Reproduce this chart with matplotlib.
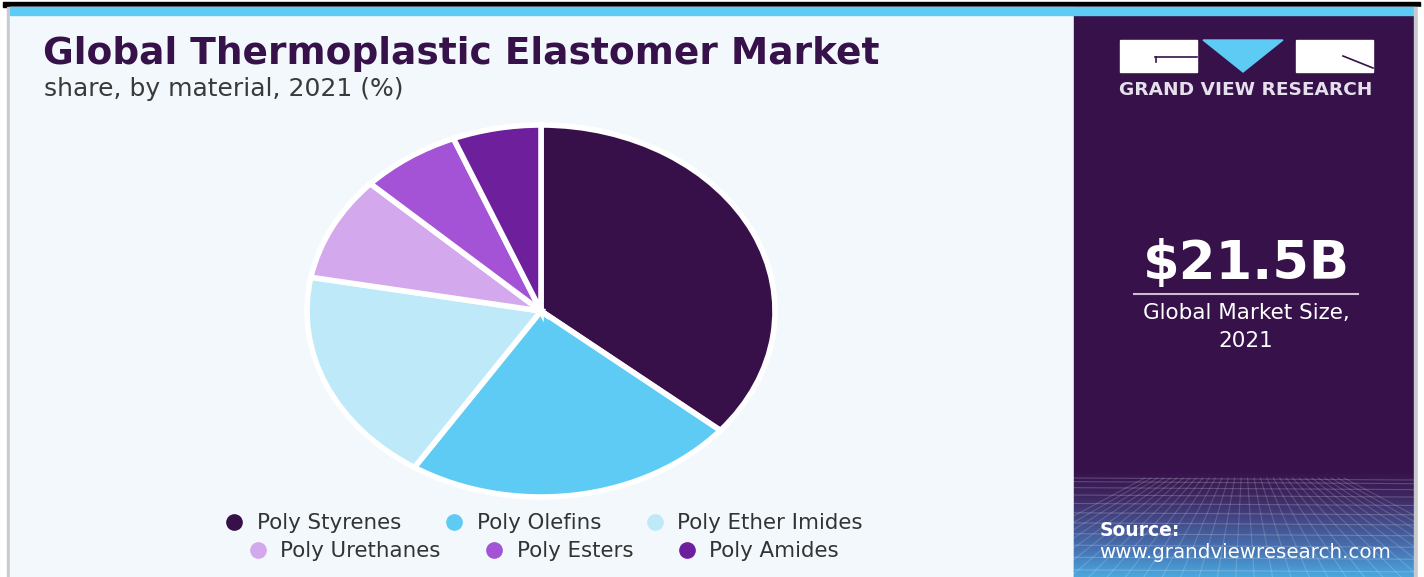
import numpy as np
import matplotlib
matplotlib.use("Agg")
import matplotlib.pyplot as plt
from matplotlib.patches import Rectangle, Polygon
from matplotlib.lines import Line2D
from matplotlib.colors import LinearSegmentedColormap

# Market share by material, 2021 (%)
materials = ["Poly Styrenes", "Poly Olefins", "Poly Ether Imides",
             "Poly Urethanes", "Poly Esters", "Poly Amides"]
shares = [36.1, 23.0, 18.8, 9.1, 6.9, 6.1]
colors = ["#371049", "#5ecbf5", "#bde9f9", "#d4a8ec", "#a452d6", "#6e1f9b"]

title = "Global Thermoplastic Elastomer Market"
subtitle = "share, by material, 2021 (%)"
market_size = "$21.5B"
market_label = "Global Market Size,\n2021"

W, H = 1424, 577
DPI = 100
fig = plt.figure(figsize=(W / DPI, H / DPI), dpi=DPI)
fig.patch.set_facecolor("white")

# Full-figure canvas in pixel coordinates for the frame, panels and text
bg = fig.add_axes([0, 0, 1, 1])
bg.set_xlim(0, W)
bg.set_ylim(H, 0)
bg.axis("off")

DARK = "#36114a"
LIGHT_BG = "#f3f8fc"
FONT = "DejaVu Sans"

# Outer frame: black rule, cyan strip, grey side borders
bg.add_patch(Rectangle((3, 2), 1417, 5, color="black", zorder=1))
bg.add_patch(Rectangle((7, 7), 1411, H, color="#c8cacd", zorder=1))
bg.add_patch(Rectangle((10, 7), 1404, H, color=LIGHT_BG, zorder=2))
bg.add_patch(Rectangle((1074, 7), 340, H, color=DARK, zorder=2))
bg.add_patch(Rectangle((10, 7), 1404, 8, color="#5ecbf5", zorder=5))

# Lower part of the side panel: purple-to-blue gradient with a perspective grid
grad = LinearSegmentedColormap.from_list(
    "panel", ["#36114a", "#3e2862", "#444e8c", "#4774b4", "#4aa8de"])
g = np.linspace(0, 1, 200)[:, None]
bg.imshow(g, cmap=grad, extent=(1074, 1414, 577, 470), aspect="auto",
          zorder=3, interpolation="bilinear")
ys = 478 + 105 * (np.linspace(0, 1, 12) ** 1.4)
for y in ys:
    bg.add_line(Line2D([1074, 1414], [y, y + 2], color="white", alpha=0.2,
                       lw=0.8, zorder=4))
for xb in np.linspace(960, 1530, 32):
    xt = 1244 + (xb - 1244) * 0.35
    bg.add_line(Line2D([xt, xb], [478, 577], color="white", alpha=0.17,
                       lw=0.8, zorder=4))
bg.add_patch(Rectangle((1414, 7), 4, H, color="#c8cacd", zorder=5))
bg.add_patch(Rectangle((1418, 7), 6, H, color="white", zorder=5))

# Title block
bg.text(43, 54, title, fontsize=27, fontweight="bold", color=DARK,
        ha="left", va="center", family=FONT, zorder=6)
bg.text(44, 89, subtitle, fontsize=18, color="#3a3a3a",
        ha="left", va="center", family=FONT, zorder=6)

# Logo
bg.add_patch(Rectangle((1120, 40), 77, 32, color="white", zorder=6))
bg.add_line(Line2D([1155, 1197], [57, 57], color=DARK, lw=1.2, zorder=7))
bg.add_line(Line2D([1156, 1156], [57, 62], color=DARK, lw=1.2, zorder=7))
bg.add_patch(Polygon([(1203, 40), (1283, 40), (1243, 72)], closed=True,
                     color="#5ecbf5", zorder=6))
bg.add_patch(Rectangle((1296, 40), 77, 32, color="white", zorder=6))
bg.add_line(Line2D([1343, 1373], [56, 68], color=DARK, lw=1.2, zorder=7))
bg.text(1246, 90, "GRAND VIEW RESEARCH", fontsize=13.3, fontweight="bold",
        color="#e6e0ec", ha="center", va="center", family=FONT, zorder=6)

# Headline figure
bg.text(1246, 264, market_size, fontsize=38, fontweight="bold", color="white",
        ha="center", va="center", family=FONT, zorder=6)
bg.add_line(Line2D([1134, 1358], [294, 294], color="#c9bfd3", lw=1.5, zorder=6))
bg.text(1246, 327, market_label, fontsize=15.5, color="white", ha="center",
        va="center", family=FONT, linespacing=1.45, zorder=6)

# Source
bg.text(1100, 531, "Source:", fontsize=13.5, fontweight="bold", color="white",
        ha="left", va="center", family=FONT, zorder=6)
bg.text(1099, 552, "www.grandviewresearch.com", fontsize=14.3, color="white",
        ha="left", va="center", family=FONT, zorder=6)

# Pie (stretched horizontally)
cx, cy, rx, ry = 541, 311, 234, 186
pie_ax = fig.add_axes([(cx - rx) / W, (H - cy - ry) / H, 2 * rx / W, 2 * ry / H])
pie_ax.pie(shares, colors=colors, startangle=90, counterclock=False,
           wedgeprops=dict(edgecolor="white", linewidth=4.0))
pie_ax.set_aspect("auto")
pie_ax.set_xlim(-1, 1)
pie_ax.set_ylim(-1, 1)
pie_ax.axis("off")
pie_ax.patch.set_alpha(0)

# Legend (two centred rows)
handles = [Line2D([], [], marker="o", ls="", markersize=11, color=c)
           for c in colors]
legend_kw = dict(loc="center", ncol=3, frameon=False,
                 prop=dict(family=FONT, size=15.4), handlelength=1.0,
                 handletextpad=0.55, columnspacing=2.0, labelcolor="#333333")
fig.legend(handles[:3], materials[:3],
           bbox_to_anchor=(543 / W, 1 - 523 / H), **legend_kw)
fig.legend(handles[3:], materials[3:],
           bbox_to_anchor=(543 / W, 1 - 551 / H), **legend_kw)

fig.savefig("out.png", dpi=DPI)
